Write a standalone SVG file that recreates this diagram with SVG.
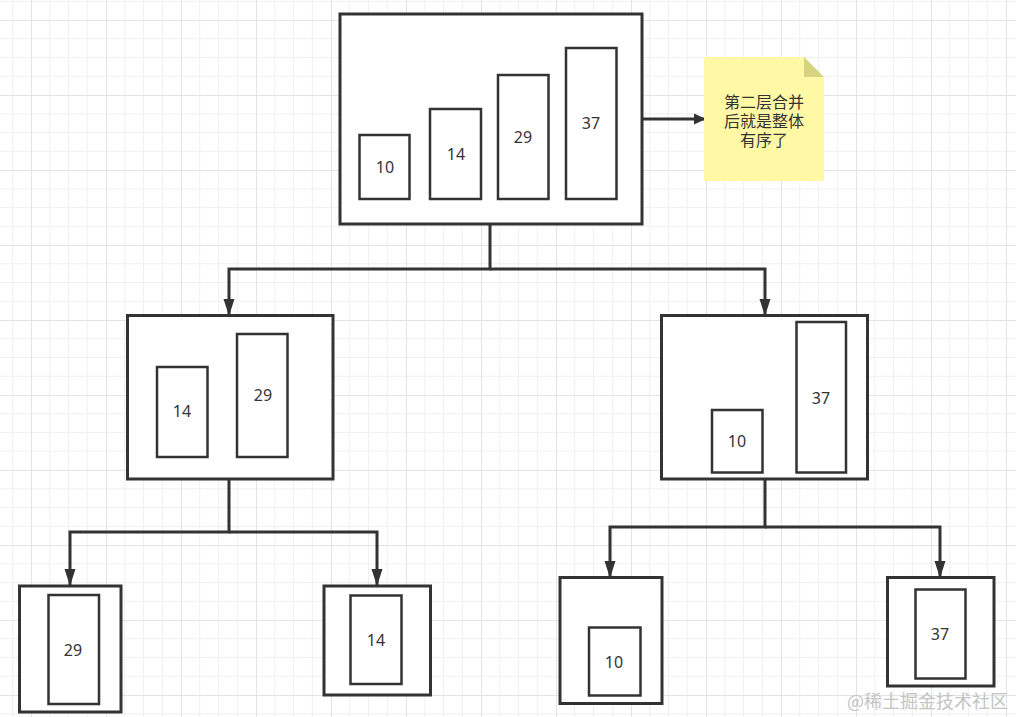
<svg xmlns="http://www.w3.org/2000/svg" width="1016" height="717" viewBox="0 0 1016 717">
<style>
.box{fill:#ffffff;stroke:#333333;stroke-width:3}
.bar{fill:#ffffff;stroke:#333333;stroke-width:2.5}
.num{font-family:"Noto Sans","Liberation Sans",sans-serif;font-size:16px;fill:#333333;text-anchor:middle;dominant-baseline:central}
.note{font-family:"Noto Sans CJK SC","Noto Sans",sans-serif;font-size:16px;fill:#333333;text-anchor:middle}
.edge{fill:none;stroke:#333333;stroke-width:3}
.wm{font-family:"Noto Sans CJK SC",sans-serif;font-size:18px;fill:#c4c4c4}
</style>
<defs>
<pattern id="grid" x="31" y="20" width="75" height="75" patternUnits="userSpaceOnUse">
<path d="M18.75 0V75M37.5 0V75M56.25 0V75M0 18.75H75M0 37.5H75M0 56.25H75" stroke="#f0f0f0" stroke-width="1" fill="none"/>
<path d="M0.5 0V75M0 0.5H75" stroke="#e3e3e3" stroke-width="1" fill="none"/>
</pattern>
<marker id="arr" markerWidth="12" markerHeight="12" viewBox="0 0 12 12" refX="10" refY="6" orient="auto" markerUnits="userSpaceOnUse">
<path d="M0 0.5L12 6L0 11.5Z" fill="#333333"/>
</marker>
<marker id="arrv" markerWidth="17" markerHeight="12" viewBox="0 0 17 12" refX="16" refY="6" orient="auto" markerUnits="userSpaceOnUse">
<path d="M0 0.5L17 6L0 11.5Z" fill="#333333"/>
</marker>
</defs>
<rect width="1016" height="717" fill="#ffffff"/>
<rect width="1016" height="717" fill="url(#grid)"/>

<g id="connectors">
<path class="edge" d="M642 119H704" marker-end="url(#arr)"/>
<path class="edge" d="M490 224V269H229V315" marker-end="url(#arrv)"/>
<path class="edge" d="M490 269H765V315" marker-end="url(#arrv)"/>
<path class="edge" d="M229 479V532H70V585" marker-end="url(#arrv)"/>
<path class="edge" d="M229 532H377V585" marker-end="url(#arrv)"/>
<path class="edge" d="M765 479V527H610V577" marker-end="url(#arrv)"/>
<path class="edge" d="M765 527H940V577" marker-end="url(#arrv)"/>
</g>

<g id="node-top">
<rect class="box" x="340" y="14" width="302" height="210"/>
<rect class="bar" x="359.5" y="135" width="50" height="64"/>
<text class="num" x="385" y="167">10</text>
<rect class="bar" x="430" y="109" width="51" height="90"/>
<text class="num" x="456" y="154">14</text>
<rect class="bar" x="498" y="75" width="50.5" height="124"/>
<text class="num" x="523" y="137">29</text>
<rect class="bar" x="566" y="48" width="50.5" height="151"/>
<text class="num" x="591" y="123">37</text>
</g>

<g id="note">
<path d="M704 57H804L824 77V181H704Z" fill="#fff9a6"/>
<path d="M804 57L824 77H804Z" fill="#d6d47e"/>
<text class="note" x="764" y="108"><tspan x="764" y="108">第二层合并</tspan><tspan x="764" y="127">后就是整体</tspan><tspan x="764" y="146">有序了</tspan></text>
</g>

<g id="node-mid-left">
<rect class="box" x="127.5" y="315.5" width="205.5" height="163.5"/>
<rect class="bar" x="157" y="367" width="50.5" height="90"/>
<text class="num" x="182" y="411">14</text>
<rect class="bar" x="237" y="334" width="50.5" height="123"/>
<text class="num" x="263" y="395">29</text>
</g>

<g id="node-mid-right">
<rect class="box" x="661.5" y="315.5" width="206" height="163.5"/>
<rect class="bar" x="712" y="410" width="50.5" height="62.5"/>
<text class="num" x="737" y="441">10</text>
<rect class="bar" x="796.5" y="322" width="49.5" height="150.5"/>
<text class="num" x="821" y="398">37</text>
</g>

<g id="node-leaf-29">
<rect class="box" x="19.5" y="586" width="101.5" height="126"/>
<rect class="bar" x="48.5" y="595" width="50.5" height="109"/>
<text class="num" x="73" y="650">29</text>
</g>

<g id="node-leaf-14">
<rect class="box" x="324" y="586" width="106.5" height="109"/>
<rect class="bar" x="350.5" y="595.5" width="51" height="88.5"/>
<text class="num" x="376" y="640">14</text>
</g>

<g id="node-leaf-10">
<rect class="box" x="560" y="577.5" width="102" height="126"/>
<rect class="bar" x="589" y="627.5" width="51.5" height="68"/>
<text class="num" x="614" y="662">10</text>
</g>

<g id="node-leaf-37">
<rect class="box" x="887.5" y="577.5" width="106.5" height="108.5"/>
<rect class="bar" x="915.5" y="589.5" width="50" height="89"/>
<text class="num" x="940" y="634">37</text>
</g>

<text class="wm" x="847" y="708">@稀土掘金技术社区</text>
</svg>
